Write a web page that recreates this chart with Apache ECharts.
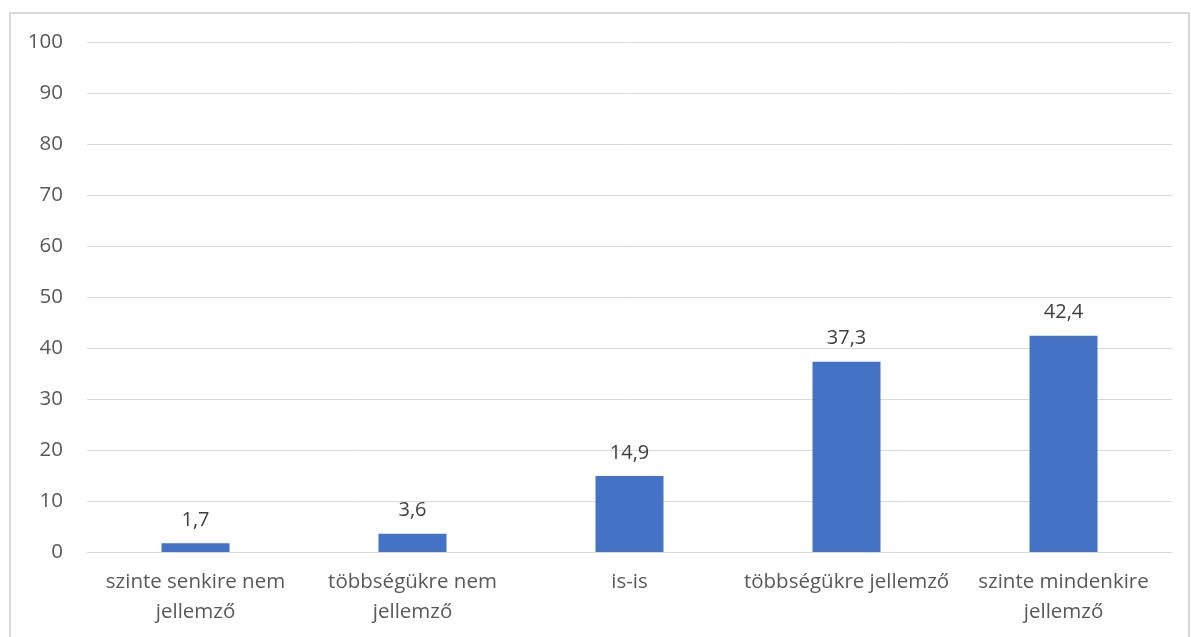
<!DOCTYPE html>
<html><head><meta charset="utf-8">
<script src="https://cdn.jsdelivr.net/npm/echarts@6/dist/echarts.min.js"></script>
<style>html,body{margin:0;padding:0;background:#fff}#c{width:1191px;height:637px}</style>
</head><body><div id="c"></div>
<script>
const categories = ["szinte senkire nem\njellemző", "többségükre nem\njellemző", "is-is", "többségükre jellemző", "szinte mindenkire\njellemző"];
const values = [1.7, 3.6, 14.9, 37.3, 42.4];
const yTicks = {min: 0, max: 100, interval: 10};

const chart = echarts.init(document.getElementById('c'), null, {renderer: 'canvas'});
const font = '"Open Sans", "Liberation Sans", sans-serif';
chart.setOption({
  animation: false,
  graphic: [{type: 'rect', shape: {x: 10, y: 13, width: 1179, height: 640}, style: {fill: 'none', stroke: '#d9d9d9', lineWidth: 2}, silent: true}],
  grid: {left: 87, right: 19, top: 42, bottom: 85},
  xAxis: {
    type: 'category', data: categories,
    axisLine: {show: true, lineStyle: {color: '#d9d9d9', width: 1}},
    axisTick: {show: false},
    axisLabel: {color: '#595959', fontSize: 20.5, fontFamily: font, lineHeight: 30, margin: 15, interval: 0}
  },
  yAxis: {
    type: 'value', min: yTicks.min, max: yTicks.max, interval: yTicks.interval,
    axisLine: {show: false}, axisTick: {show: false},
    splitLine: {lineStyle: {color: '#d9d9d9', width: 1}},
    axisLabel: {color: '#595959', fontSize: 20.5, fontFamily: font, margin: 24}
  },
  series: [{
    type: 'bar', data: values, barWidth: 68,
    itemStyle: {color: '#4472c4'},
    label: {show: true, position: 'top', distance: 13, color: '#404040', fontSize: 20, fontFamily: font,
      formatter: p => String(p.value).replace('.', ',')}
  }]
});
</script></body></html>
